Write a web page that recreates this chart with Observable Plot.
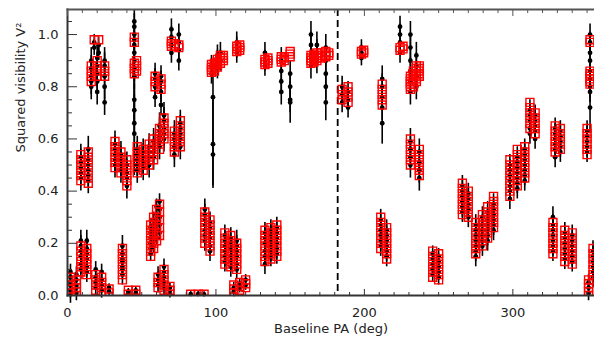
<!DOCTYPE html>
<html><head><meta charset="utf-8">
<script src="https://cdn.jsdelivr.net/npm/d3@7"></script>
<script src="https://cdn.jsdelivr.net/npm/@observablehq/plot@0.6"></script>
<style>body{margin:0;background:#fff}</style>
</head><body><div id="chart"></div>
<script>
// Each column: [baseline PA (deg), model V^2 values, observed V^2 values, error]
const lowCols = [
 [2, [0.01,0.025,0.04,0.055,0.07], [0.0,0.02,0.04,0.05,0.07,0.09], 0.03],
 [6, [0.0,0.015,0.03,0.045,0.06], [0.01,0.03,0.04,0.06,0.08], 0.03],
 [9, [0.09,0.11,0.13,0.15,0.17,0.19], [0.1,0.12,0.15,0.17,0.19,0.21], 0.04],
 [13, [0.08,0.1,0.12,0.14,0.16,0.18], [0.09,0.11,0.14,0.16,0.18,0.21], 0.04],
 [19, [0.02,0.04,0.06,0.08], [0.03,0.05,0.07,0.1], 0.03],
 [23, [0.01,0.03,0.05,0.07], [0.02,0.04,0.06,0.09], 0.03],
 [28, [0.01,0.025], [0.015,0.03], 0.015],
 [37, [0.06,0.08,0.1,0.12,0.14,0.16,0.18], [0.08,0.1,0.11,0.13,0.14,0.16,0.19], 0.04],
 [41, [0.005,0.02], [0.01,0.015], 0.012],
 [46, [0.005,0.02], [0.01,0.02], 0.012],
 [56, [0.15,0.17,0.19,0.21,0.23,0.25,0.27], [0.16,0.18,0.2,0.22,0.24,0.26], 0.03],
 [58, [0.18,0.2,0.22,0.24,0.26,0.28,0.3], [0.19,0.21,0.23,0.25,0.27,0.29], 0.03],
 [60, [0.21,0.24,0.27,0.3,0.33], [0.22,0.25,0.28,0.31,0.34], 0.03],
 [62, [0.23,0.26,0.29,0.32,0.35], [0.24,0.27,0.3,0.33,0.36], 0.03],
 [61, [0.03,0.05,0.07], [0.04,0.06,0.08], 0.03],
 [65, [0.02,0.04,0.06,0.08,0.1], [0.03,0.05,0.07,0.09,0.11], 0.03],
 [69, [0.005,0.02,0.035], [0.01,0.03], 0.02],
 [83, [0.005], [0.005], 0.01],
 [88, [0.005], [0.005], 0.01],
 [92, [0.005], [0.004], 0.01],
 [92.5, [0.2,0.22,0.24,0.26,0.28,0.3,0.32], [0.21,0.23,0.25,0.27,0.29,0.31,0.33], 0.04],
 [96, [0.17,0.19,0.21,0.23,0.25,0.27,0.29], [0.17,0.19,0.22,0.24,0.26,0.28], 0.04],
 [106, [0.12,0.14,0.16,0.18,0.2,0.22,0.24], [0.13,0.15,0.17,0.19,0.21,0.23], 0.04],
 [110, [0.11,0.13,0.15,0.17,0.19,0.21,0.23], [0.11,0.13,0.15,0.18,0.2,0.22], 0.04],
 [114, [0.1,0.12,0.14,0.16,0.18,0.2], [0.1,0.12,0.15,0.17,0.19,0.21], 0.04],
 [112, [0.01,0.025,0.04], [0.015,0.03], 0.02],
 [116, [0.02,0.035,0.05], [0.03,0.045], 0.02],
 [120, [0.03,0.045,0.06], [0.04,0.06], 0.02],
 [133, [0.13,0.15,0.17,0.19,0.21,0.23,0.25], [0.12,0.15,0.17,0.2,0.22,0.24], 0.04],
 [137, [0.14,0.16,0.18,0.2,0.22,0.24,0.26], [0.15,0.17,0.19,0.21,0.23,0.25], 0.04],
 [141, [0.15,0.17,0.19,0.21,0.23,0.25,0.27], [0.16,0.18,0.2,0.22,0.24,0.26], 0.04],
 [211, [0.18,0.2,0.22,0.24,0.26,0.28,0.3], [0.19,0.21,0.23,0.25,0.27,0.29], 0.04],
 [215, [0.14,0.16,0.18,0.2,0.22,0.24,0.26], [0.15,0.17,0.19,0.21,0.23,0.25], 0.04],
 [246, [0.07,0.09,0.11,0.13,0.15,0.17], [0.08,0.1,0.12,0.14,0.16], 0.03],
 [250, [0.06,0.08,0.1,0.12,0.14,0.16], [0.07,0.09,0.11,0.13,0.15], 0.03],
 [266, [0.31,0.33,0.35,0.37,0.39,0.41,0.43], [0.32,0.34,0.36,0.38,0.4,0.42], 0.04],
 [270, [0.3,0.32,0.34,0.36,0.38,0.4], [0.3,0.33,0.35,0.37,0.39], 0.04],
 [275, [0.16,0.18,0.2,0.22,0.24,0.26,0.28], [0.15,0.17,0.19,0.21,0.23,0.25,0.27], 0.04],
 [279.5, [0.19,0.21,0.23,0.25,0.27,0.29,0.31], [0.19,0.21,0.23,0.25,0.27,0.3], 0.04],
 [283, [0.22,0.24,0.26,0.28,0.3,0.32,0.34], [0.21,0.23,0.25,0.27,0.29,0.32], 0.04],
 [287, [0.26,0.28,0.3,0.32,0.34,0.36,0.38], [0.25,0.27,0.29,0.31,0.33,0.35], 0.04],
 [298, [0.38,0.4,0.42,0.44,0.46,0.48,0.5,0.52], [0.37,0.4,0.42,0.44,0.46,0.48,0.5], 0.04],
 [303, [0.42,0.44,0.46,0.48,0.5,0.52,0.54,0.56], [0.41,0.43,0.45,0.47,0.49,0.51,0.53], 0.04],
 [308, [0.45,0.47,0.49,0.51,0.53,0.55,0.57], [0.44,0.46,0.48,0.5,0.52,0.54,0.56], 0.04],
 [327, [0.16,0.18,0.2,0.22,0.24,0.26,0.28], [0.17,0.19,0.21,0.23,0.25,0.27,0.3], 0.04],
 [335, [0.13,0.15,0.17,0.19,0.21,0.23,0.25], [0.14,0.16,0.18,0.2,0.22,0.24], 0.04],
 [340, [0.12,0.14,0.16,0.18,0.2,0.22,0.24], [0.13,0.15,0.17,0.19,0.21,0.23], 0.04],
 [351, [0.0,0.015,0.03,0.045,0.06], [0.01,0.03,0.05], 0.03],
 [354, [0.06,0.08,0.1,0.12,0.14,0.16,0.18], [0.07,0.09,0.11,0.13,0.15,0.17], 0.04]
];
const midCols = [
 [9, [0.44,0.46,0.48,0.5,0.52,0.54], [0.45,0.47,0.49,0.51,0.53], 0.05],
 [14, [0.43,0.45,0.47,0.49,0.51,0.53,0.55], [0.44,0.46,0.48,0.5,0.52,0.56], 0.05],
 [32, [0.49,0.51,0.53,0.55,0.57,0.59], [0.5,0.52,0.54,0.56,0.58], 0.05],
 [36, [0.47,0.49,0.51,0.53,0.55], [0.48,0.5,0.52,0.54], 0.05],
 [40, [0.42,0.44,0.46,0.48,0.5,0.52], [0.42,0.45,0.47,0.5], 0.05],
 [47, [0.47,0.49,0.51,0.53,0.55,0.57], [0.48,0.5,0.52,0.54,0.56], 0.05],
 [51, [0.48,0.5,0.52,0.54,0.56], [0.49,0.51,0.53,0.55], 0.05],
 [55, [0.5,0.52,0.54,0.56,0.58], [0.5,0.53,0.55,0.57], 0.05],
 [58, [0.52,0.54,0.56,0.58,0.6], [0.53,0.55,0.57,0.59], 0.05],
 [62, [0.56,0.58,0.6,0.62,0.64], [0.57,0.59,0.61,0.63,0.65], 0.05],
 [65, [0.6,0.62,0.64,0.66,0.68], [0.6,0.62,0.64,0.67,0.69], 0.05],
 [72, [0.55,0.57,0.59,0.61,0.63], [0.54,0.57,0.6,0.62], 0.05],
 [76, [0.57,0.59,0.61,0.63,0.65,0.67], [0.57,0.6,0.62,0.64,0.66], 0.05],
 [231, [0.5,0.52,0.54,0.56,0.58,0.6], [0.5,0.53,0.56,0.59], 0.05],
 [237, [0.46,0.48,0.5,0.52,0.54,0.56], [0.45,0.48,0.51,0.55], 0.05],
 [311.5, [0.64,0.66,0.68,0.7,0.72,0.74], [0.62,0.64,0.67,0.69,0.71], 0.04],
 [315, [0.62,0.64,0.66,0.68,0.7], [0.6,0.63,0.65,0.67,0.69], 0.04],
 [328.5, [0.55,0.57,0.59,0.61,0.63,0.65], [0.53,0.56,0.58,0.6,0.62,0.64], 0.04],
 [332, [0.56,0.58,0.6,0.62,0.64], [0.55,0.57,0.59,0.61,0.63], 0.04],
 [350, [0.54,0.56,0.58,0.6,0.62,0.64], [0.55,0.57,0.59,0.61,0.63], 0.04]
];
const highCols = [
 [18, [0.98], [0.97,0.95], 0.03],
 [21, [0.98], [0.96,0.93], 0.03],
 [16, [0.82,0.84,0.86,0.88], [0.8,0.82,0.84,0.87,0.9], 0.05],
 [20, [0.84,0.86,0.88,0.9], [0.78,0.82,0.85,0.88,0.91], 0.05],
 [25, [0.84,0.86,0.88], [0.74,0.8,0.84,0.88,0.9], 0.05],
 [45, [0.97,0.99], [1.03,1.0,0.98,0.96], 0.05],
 [45, [0.85,0.87,0.89], [0.93,0.9,0.87,0.84], 0.05],
 [46.5, [0.86,0.88,0.9], [], 0.05],
 [59, [0.8,0.82,0.84], [0.76,0.8,0.83,0.85], 0.04],
 [63, [0.79,0.81,0.83], [0.73,0.78,0.82,0.84], 0.04],
 [70, [0.955,0.965,0.975], [0.93,0.96,0.99,1.02], 0.04],
 [72, [0.955,0.965], [], 0.04],
 [75, [0.95,0.96], [0.9,0.94,0.97,1.0], 0.04],
 [97, [0.855,0.865,0.875,0.885], [0.85,0.88], 0.04],
 [99, [0.86,0.87,0.88,0.89], [], 0.04],
 [101, [0.875,0.885,0.895,0.905], [0.87,0.9,0.92], 0.04],
 [103, [0.89,0.9,0.91,0.92], [0.9,0.93], 0.04],
 [105, [0.9,0.91,0.92], [], 0.04],
 [114, [0.935,0.945,0.955], [0.93,0.95,0.97], 0.04],
 [116, [0.94,0.95,0.96], [], 0.04],
 [133, [0.885,0.895,0.905], [0.88,0.9,0.93], 0.04],
 [135, [0.89,0.9,0.91], [], 0.04],
 [144, [0.895,0.905,0.915], [0.78,0.82,0.86,0.9], 0.05],
 [146, [0.9,0.91], [], 0.05],
 [150, [0.915,0.925,0.935], [0.75,0.8,0.85], 0.05],
 [164, [0.89,0.9,0.91,0.92], [0.88,0.92,0.96,1.0], 0.05],
 [166, [0.895,0.905,0.915,0.925], [], 0.05],
 [168, [0.9,0.91,0.92,0.93], [0.9,0.93,0.96], 0.05],
 [171, [0.91,0.92,0.93], [], 0.05],
 [174, [0.915,0.925,0.935], [0.8,0.85,0.9,0.95], 0.05],
 [176, [0.92,0.93], [], 0.05],
 [185, [0.75,0.77,0.79], [0.74,0.77,0.8], 0.04],
 [189, [0.74,0.76,0.78,0.8], [0.72,0.75,0.78], 0.04],
 [198, [0.925,0.935], [0.91,0.93,0.95], 0.03],
 [199.5, [0.93,0.94], [], 0.03],
 [212, [0.73,0.75,0.77,0.79,0.81], [0.72,0.76,0.8,0.83], 0.05],
 [224, [0.94,0.95], [0.93,0.97,1.0,1.03], 0.04],
 [226, [0.945,0.955], [], 0.04],
 [231, [0.79,0.8,0.81,0.82,0.83,0.84], [0.78,0.82,0.86,0.9,0.95,1.0], 0.05],
 [233, [0.8,0.81,0.82,0.83,0.84,0.85,0.86], [], 0.05],
 [235, [0.82,0.83,0.84,0.85,0.86,0.87,0.88], [0.8,0.84,0.88,0.92], 0.05],
 [237, [0.84,0.85,0.86,0.87,0.88], [], 0.05],
 [352, [0.97,0.98], [0.97,1.0,0.93], 0.04],
 [352, [0.81,0.82,0.83,0.84,0.85,0.86], [0.8,0.83,0.86,0.78], 0.04]
];
// Isolated points with large error bars: [PA, V^2, error]
const longBars = [
 [45, 0.66, 0.2], [45, 0.62, 0.15], [45, 0.71, 0.1], [45, 0.75, 0.1], [45, 1.05, 0.05],
 [98, 0.58, 0.17], [98, 0.54, 0.12], [98, 0.76, 0.1],
 [150, 0.74, 0.08], [174, 0.74, 0.07], [212, 0.66, 0.08], [352, 0.72, 0.1], [352, 0.9, 0.08]
];
const markerPA = [182];
const yMajor = [0, 0.2, 0.4, 0.6, 0.8, 1.0];
const yMinor = [0.05,0.1,0.15,0.25,0.3,0.35,0.45,0.5,0.55,0.65,0.7,0.75,0.85,0.9,0.95,1.05];
const xMajor = [0, 100, 200, 300];
const xMinor = [10,20,30,40,50,60,70,80,90,110,120,130,140,150,160,170,180,190,210,220,230,240,250,260,270,280,290,310,320,330,340,350];

const allCols = [...lowCols, ...midCols, ...highCols];
const model = allCols.flatMap(([pa, m]) => m.map(v => ({pa, v})));
const obs = allCols.flatMap(([pa, , o, e]) => o.map(v => ({pa, v, e})))
  .concat(longBars.map(([pa, v, e]) => ({pa, v, e})));

const font = "DejaVu Sans, sans-serif";
const ink = "#222";
const chart = Plot.plot({
  width: 594, height: 341,
  marginLeft: 67, marginRight: 0, marginTop: 9, marginBottom: 46,
  style: {fontFamily: font, fontSize: "13px", color: ink, background: "white"},
  x: {domain: [0, 355]},
  y: {domain: [0, 1.096]},
  marks: [
    Plot.ruleX(markerPA, {stroke: "black", strokeWidth: 1.8, strokeDasharray: "7,4"}),
    Plot.ruleX(obs, {x: "pa", y1: d => d.v - d.e, y2: d => Math.min(d.v + d.e, 1.096), stroke: "black", strokeWidth: 1.6}),
    Plot.dot(obs, {x: "pa", y: "v", r: 2.4, fill: "black", clip: true}),
    Plot.dot(model, {x: "pa", y: "v", symbol: "square", r: 4.5, stroke: "red", strokeWidth: 1.4, fill: "none", clip: true}),
    Plot.frame({anchor: "left", stroke: "#333", strokeWidth: 2}),
    Plot.frame({anchor: "bottom", stroke: "#333", strokeWidth: 2}),
    Plot.frame({anchor: "top", stroke: "#555", strokeWidth: 2}),
    Plot.axisY({ticks: yMajor, tickSize: 0, tickPadding: 9, tickFormat: d3.format(".1f"), label: null, fill: ink}),
    Plot.axisY({ticks: yMajor, tickSize: -10, tickFormat: () => "", label: null, stroke: "#333"}),
    Plot.axisY({ticks: yMinor, tickSize: -5, tickFormat: () => "", label: null, stroke: "#333"}),
    Plot.axisX({ticks: xMajor, tickSize: 0, tickPadding: 12, tickFormat: d3.format("d"), label: null, fill: ink}),
    Plot.axisX({ticks: xMajor, tickSize: -6, tickFormat: () => "", label: null, stroke: "#333"}),
    Plot.axisX({ticks: xMinor, tickSize: -3, tickFormat: () => "", label: null, stroke: "#333"}),
    Plot.axisX({anchor: "top", ticks: xMajor, tickSize: -6, tickFormat: () => "", label: null, stroke: "#555"}),
    Plot.axisX({anchor: "top", ticks: xMinor, tickSize: -3, tickFormat: () => "", label: null, stroke: "#555"}),
    Plot.text(["Baseline PA (deg)"], {frameAnchor: "bottom", dy: 37, fill: ink, fontSize: 13}),
    Plot.text(["Squared visibility V²"], {frameAnchor: "left", dx: -47, rotate: -90, fill: ink, fontSize: 13})
  ]
});
document.getElementById("chart").appendChild(chart);
</script>
</body></html>
